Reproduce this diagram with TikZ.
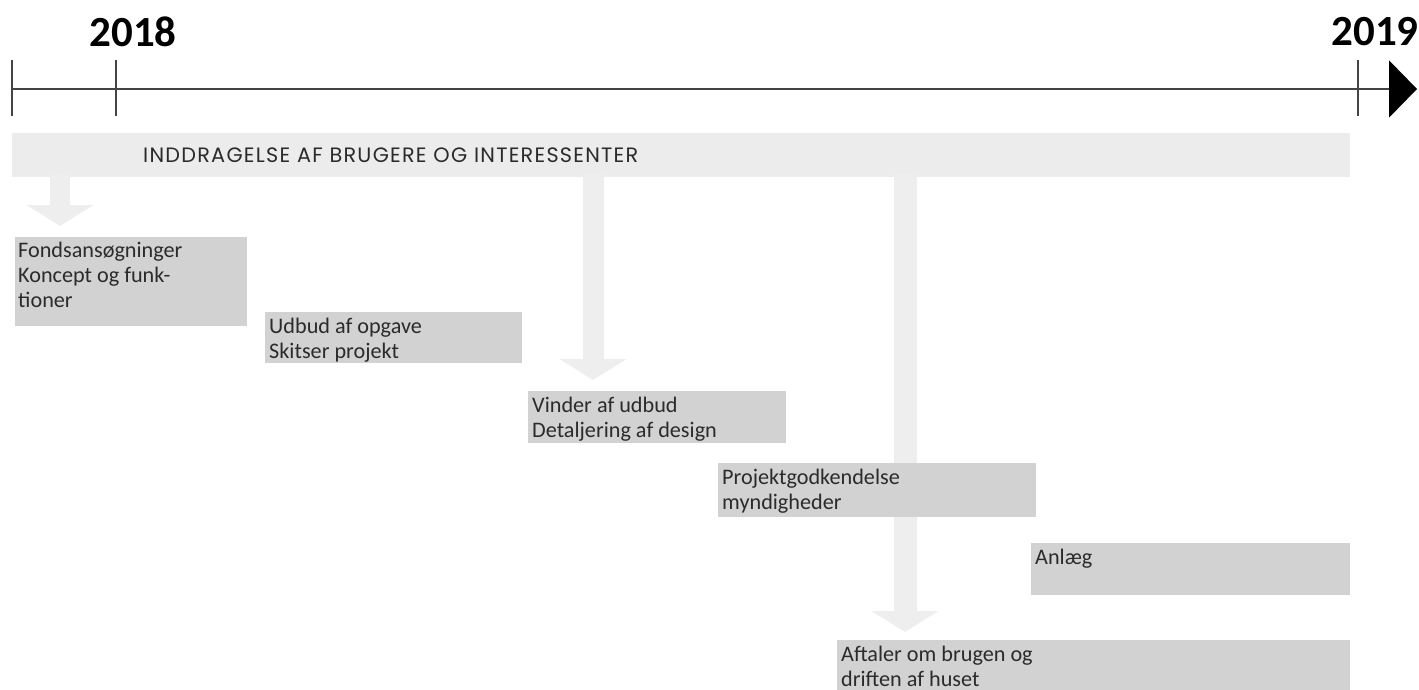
\documentclass[tikz,border=0pt]{standalone}
\usepackage{fontspec}
\setmainfont{Carlito}
\newfontfamily\bannerfont[LetterSpace=6]{Poppins}
\usetikzlibrary{arrows.meta}
\definecolor{bandgray}{HTML}{ECECEC}
\definecolor{arrowgray}{HTML}{EEEEEE}
\definecolor{boxgray}{HTML}{D2D2D2}
\definecolor{txtgray}{HTML}{2B2B2B}
\definecolor{axisgray}{HTML}{444444}
\tikzset{
  axisline/.style={draw=axisgray, line width=2pt},
  yearlabel/.style={font=\fontsize{43}{50}\selectfont\bfseries, text=black, inner sep=0},
  band/.style={fill=bandgray, inner sep=0, anchor=north west},
  bandtext/.style={font=\bannerfont\fontsize{20.8}{24}\selectfont, text=txtgray, inner sep=0, anchor=base west},
  blockarrow/.style={draw=arrowgray, line width=#1, -{Triangle[width=66pt,length=21pt,fill=arrowgray]}, shorten >=11pt},
  stepbox/.style={fill=boxgray, inner sep=0, anchor=north west},
  steptext/.style={font=\fontsize{22.2}{25}\selectfont, text=txtgray, align=left, inner sep=0, anchor=north west},
}
\begin{document}
\begin{tikzpicture}[x=1pt,y=-1pt]
\useasboundingbox[fill=white] (0,0) rectangle (1419,690);

% timeline
\coordinate (tstart) at (12,89);
\coordinate (tend) at (1417,89);
\draw[axisline, -{Triangle[width=57pt,length=28pt,fill=black,color=black]}] (tstart) -- (tend);
\draw[axisline] (12,60) -- (12,116);
\draw[axisline] (116,60) -- (116,116);
\draw[axisline] (1358,60) -- (1358,116);
\node[yearlabel] (y2018) at (133,32) {2018};
\node[yearlabel] (y2019) at (1375,32) {2019};

% banner
\node[band, minimum width=1338pt, minimum height=44pt] (band) at (12,133) {};

% box positions
\coordinate (ax1) at (60,0);
\coordinate (ax2) at (593,0);
\coordinate (ax3) at (905,0);
\coordinate (b1nw) at (15,237);
\coordinate (b3nw) at (528,391);
\coordinate (b6nw) at (837,640);

% arrows from banner (behind the boxes)
\draw[blockarrow=20pt] ([yshift=3pt]band.south -| ax1) -- (ax1 |- b1nw);
\draw[blockarrow=21pt] ([yshift=3pt]band.south -| ax2) -- (ax2 |- b3nw);
\draw[blockarrow=23pt, shorten >=8pt] ([yshift=3pt]band.south -| ax3) -- (ax3 |- b6nw);

\node[bandtext] (bandtext) at (143,163) {INDDRAGELSE AF BRUGERE OG INTERESSENTER};

% boxes
\node[stepbox, minimum width=232pt, minimum height=89pt] (b1) at (b1nw) {};
\node[stepbox, minimum width=257pt, minimum height=51pt] (b2) at (265,312) {};
\node[stepbox, minimum width=258pt, minimum height=52pt] (b3) at (b3nw) {};
\node[stepbox, minimum width=318pt, minimum height=54pt] (b4) at (718,463) {};
\node[stepbox, minimum width=319pt, minimum height=52pt] (b5) at (1031,543) {};
\node[stepbox, minimum width=513pt, minimum height=55pt] (b6) at (b6nw) {};

\node[steptext] (t1) at ([shift={(3,5)}]b1.north west) {Fondsansøgninger\\Koncept og funk-\\tioner};
\node[steptext] (t2) at ([shift={(4,6)}]b2.north west) {Udbud af opgave\\Skitser projekt};
\node[steptext] (t3) at ([shift={(4,6)}]b3.north west) {Vinder af udbud\\Detaljering af design};
\node[steptext] (t4) at ([shift={(4,6)}]b4.north west) {Projektgodkendelse\\myndigheder};
\node[steptext] (t5) at ([shift={(4,6)}]b5.north west) {Anlæg};
\node[steptext] (t6) at ([shift={(4,6)}]b6.north west) {Aftaler om brugen og\\driften af huset};
\end{tikzpicture}
\end{document}
